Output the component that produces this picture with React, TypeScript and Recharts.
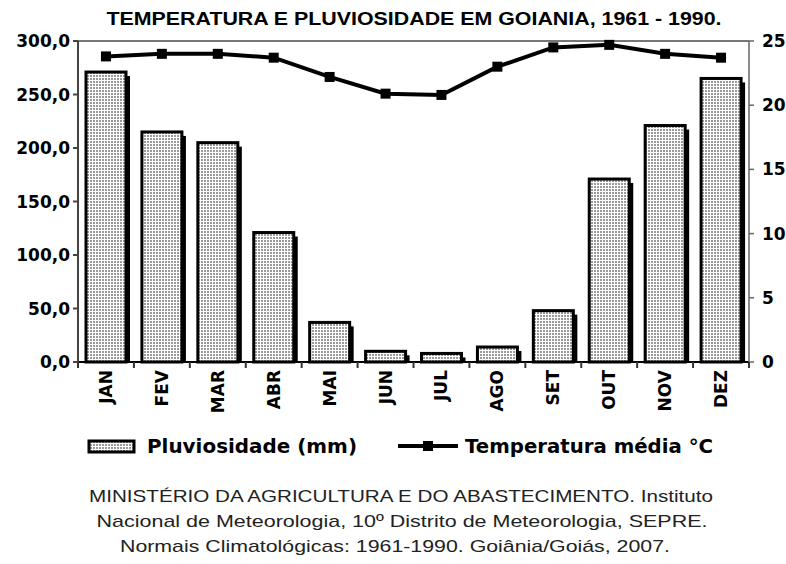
import React from 'react';
import { ComposedChart, Bar, Line, XAxis, YAxis, CartesianGrid } from 'recharts';

// Normais climatológicas 1961-1990, Goiânia
const months = ['JAN', 'FEV', 'MAR', 'ABR', 'MAI', 'JUN', 'JUL', 'AGO', 'SET', 'OUT', 'NOV', 'DEZ'];
const rainfall = [271, 215, 205, 121, 37, 10, 8, 14, 48, 171, 221, 265];
const temperature = [23.8, 24.0, 24.0, 23.7, 22.2, 20.9, 20.8, 23.0, 24.5, 24.7, 24.0, 23.7];
const rainTicks = [0, 50, 100, 150, 200, 250, 300];
const tempTicks = [0, 5, 10, 15, 20, 25];

const title = 'TEMPERATURA E PLUVIOSIDADE EM GOIANIA, 1961 - 1990.';
const sourceLines = [
  'MINISTÉRIO DA AGRICULTURA E DO ABASTECIMENTO. Instituto',
  'Nacional de Meteorologia, 10º Distrito de Meteorologia, SEPRE.',
  'Normais Climatológicas: 1961-1990. Goiânia/Goiás, 2007.',
];

const data = months.map((m, i) => ({ month: m, rain: rainfall[i], temp: temperature[i] }));

const W = 786;
const H = 564;
const PLOT_LEFT = 78;
const PLOT_RIGHT = 749;
const PLOT_TOP = 41;
const PLOT_BOTTOM = 362;
const BAND = (PLOT_RIGHT - PLOT_LEFT) / months.length;

const BOLD = '"DejaVu Sans", Verdana, sans-serif';
const ARIAL = '"Liberation Sans", Arial, sans-serif';

const fmtRain = (v: number) => v.toFixed(1).replace('.', ',');

// bar with black drop shadow on the right
const ShadowBar = (props: any) => {
  const { x, y, width, height } = props;
  if (height == null || height <= 0) return null;
  return (
    <g>
      <rect x={x + width - 1} y={y + 4} width={5} height={Math.max(height - 4, 0)} fill="#000" />
      <rect x={x} y={y} width={width} height={height} fill="url(#rainPattern)" stroke="#000" strokeWidth={3} />
    </g>
  );
};

const SquareDot = (props: any) => {
  const { cx, cy } = props;
  if (cx == null || cy == null) return null;
  return <rect x={cx - 5} y={cy - 5} width={10} height={10} fill="#000" />;
};

const MonthTick = (props: any) => {
  const { x, payload, index } = props;
  const left = x - BAND / 2;
  return (
    <g>
      <line x1={left} y1={PLOT_BOTTOM} x2={left} y2={PLOT_BOTTOM + 6} stroke="#333" strokeWidth={2} />
      {index === months.length - 1 && (
        <line x1={left + BAND} y1={PLOT_BOTTOM} x2={left + BAND} y2={PLOT_BOTTOM + 6} stroke="#333" strokeWidth={2} />
      )}
      <text
        x={x + 6}
        y={PLOT_BOTTOM + 8}
        transform={`rotate(-90, ${x + 6}, ${PLOT_BOTTOM + 8})`}
        textAnchor="end"
        fontFamily={BOLD}
        fontWeight="bold"
        fontSize={17}
        fill="#000"
      >
        {payload.value}
      </text>
    </g>
  );
};

export default function App() {
  return (
    <div style={{ position: 'absolute', left: 0, top: 0, width: W, height: H, background: '#fff' }}>
      <ComposedChart
        width={W}
        height={H}
        data={data}
        margin={{ top: PLOT_TOP, right: W - PLOT_RIGHT - 30, left: PLOT_LEFT - 70, bottom: H - PLOT_BOTTOM - 60 }}
      >
        <CartesianGrid vertical={false} stroke="#777" strokeWidth={2} />
        <XAxis
          dataKey="month"
          height={60}
          interval={0}
          tickLine={false}
          axisLine={{ stroke: '#000', strokeWidth: 2 }}
          tick={<MonthTick />}
        />
        <YAxis
          yAxisId="rain"
          width={70}
          domain={[0, 300]}
          ticks={rainTicks}
          tickFormatter={fmtRain}
          tickSize={5}
          tickMargin={3}
          axisLine={{ stroke: '#444', strokeWidth: 2 }}
          tickLine={{ stroke: '#444', strokeWidth: 2 }}
          tick={{ fill: '#000', fontFamily: BOLD, fontWeight: 'bold', fontSize: 17 }}
        />
        <YAxis
          yAxisId="temp"
          orientation="right"
          width={30}
          domain={[0, 25]}
          ticks={tempTicks}
          tickSize={5}
          tickMargin={8}
          axisLine={{ stroke: '#666', strokeWidth: 1.5 }}
          tickLine={{ stroke: '#666', strokeWidth: 1.5 }}
          tick={{ fill: '#000', fontFamily: BOLD, fontWeight: 'bold', fontSize: 17, textAnchor: 'start' }}
        />
        <Bar yAxisId="rain" dataKey="rain" barSize={40} shape={ShadowBar} isAnimationActive={false} />
        <Line
          yAxisId="temp"
          dataKey="temp"
          stroke="#000"
          strokeWidth={4}
          dot={<SquareDot />}
          activeDot={false}
          isAnimationActive={false}
        />
      </ComposedChart>

      <svg width={W} height={H} style={{ position: 'absolute', left: 0, top: 0, pointerEvents: 'none' }}>
        <defs>
          <pattern id="rainPattern" width="3" height="3" patternUnits="userSpaceOnUse">
            <rect width="3" height="3" fill="#fff" />
            <rect width="2" height="2" fill="#9a9a9a" />
          </pattern>
        </defs>

        <text x={414} y={25} textAnchor="middle" fontFamily={ARIAL} fontWeight="bold" fontSize={19}
          textLength={615} lengthAdjust="spacingAndGlyphs" fill="#000">
          {title}
        </text>

        {/* legend */}
        <rect x={89} y={441} width={45} height={11} fill="url(#rainPattern)" stroke="#000" strokeWidth={3} />
        <text x={147} y={453} fontFamily={BOLD} fontWeight="bold" fontSize={20}
          textLength={210} lengthAdjust="spacingAndGlyphs" fill="#000">
          Pluviosidade (mm)
        </text>
        <line x1={398} y1={446} x2={458} y2={446} stroke="#000" strokeWidth={4} />
        <rect x={423} y={441} width={10} height={10} fill="#000" />
        <text x={465} y={453} fontFamily={BOLD} fontWeight="bold" fontSize={20}
          textLength={248} lengthAdjust="spacingAndGlyphs" fill="#000">
          Temperatura média °C
        </text>

        {/* source */}
        <text x={401} y={502} textAnchor="middle" fontFamily={ARIAL} fontSize={17}
          textLength={624} lengthAdjust="spacingAndGlyphs" fill="#222">
          {sourceLines[0]}
        </text>
        <text x={402} y={527} textAnchor="middle" fontFamily={ARIAL} fontSize={17}
          textLength={611} lengthAdjust="spacingAndGlyphs" fill="#222">
          {sourceLines[1]}
        </text>
        <text x={395} y={552} textAnchor="middle" fontFamily={ARIAL} fontSize={17}
          textLength={550} lengthAdjust="spacingAndGlyphs" fill="#222">
          {sourceLines[2]}
        </text>
      </svg>
    </div>
  );
}
